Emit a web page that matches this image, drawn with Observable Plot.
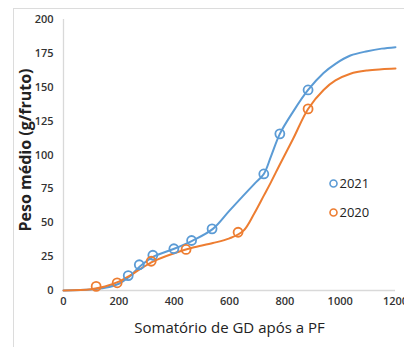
<!DOCTYPE html>
<html>
<head>
<meta charset="utf-8">
<script src="https://cdn.jsdelivr.net/npm/d3@7"></script>
<script src="https://cdn.jsdelivr.net/npm/@observablehq/plot@0.6"></script>
<style>
  html, body { margin: 0; padding: 0; background: #fff; }
  #wrap { position: relative; width: 404px; height: 347px; overflow: hidden; }
  #frame { position: absolute; left: 13px; top: 8px; width: 420px; height: 360px;
           border-top: 1.5px solid #dcdcdc; border-left: 1.5px solid #dcdcdc; box-sizing: border-box; }
  #chart { position: absolute; left: 0; top: 0; }
</style>
</head>
<body>
<div id="wrap"><div id="frame"></div><div id="chart"></div></div>
<script>
// Observed points
const obsX2021 = [234, 274, 323, 399, 463, 537, 724, 782, 884];
const obsY2021 = [11, 19, 26, 30.8, 36.9, 45.5, 86, 115.6, 148];
const obsX2020 = [118, 194, 317, 443, 631, 884];
const obsY2020 = [3, 5.7, 21.6, 30.3, 43, 134];

// Fitted curves
const curveX = [0, 100, 150, 200, 240, 275, 325, 400, 465, 540, 600, 650, 690, 724, 750, 782, 830, 884, 940, 983, 1037, 1098, 1150, 1200];
const curve2021 = [0, 0.8, 2, 5, 10.5, 17.5, 25, 30.8, 36.7, 45.5, 59, 70, 78.7, 86, 99, 115.6, 132, 148, 160.5, 167.3, 173.4, 176.6, 178.5, 179.6];
const curve2020 = [0, 1, 3, 6.5, 11, 15.5, 21.5, 27.5, 31.5, 35, 38.5, 44, 57, 70, 80, 93, 112, 134, 148, 155, 160, 162.4, 163.3, 163.8];

const series = ["2021", "2020"];
const colors = ["#5b9bd5", "#ed7d31"];
const xTicks = [0, 200, 400, 600, 800, 1000, 1200];
const yTicks = [0, 25, 50, 75, 100, 125, 150, 175, 200];
const xLabel = "Somatório de GD após a PF";
const yLabel = "Peso médio (g/fruto)";

const pts2021 = obsX2021.map((x, i) => ({x, y: obsY2021[i]}));
const pts2020 = obsX2020.map((x, i) => ({x, y: obsY2020[i]}));
const c2021 = curveX.map((x, i) => ({x, y: curve2021[i]}));
const c2020 = curveX.map((x, i) => ({x, y: curve2020[i]}));

const font = "'Open Sans', sans-serif";

const chart = Plot.plot({
  width: 404,
  height: 347,
  marginLeft: 63,
  marginRight: 9,
  marginTop: 19,
  marginBottom: 57,
  style: {fontFamily: font, background: "transparent"},
  x: {domain: [0, 1200]},
  y: {domain: [0, 200]},
  marks: [
    Plot.ruleX([0], {stroke: "#d9d9d9", strokeWidth: 1.3}),
    Plot.ruleY([0], {stroke: "#d9d9d9", strokeWidth: 1.3}),
    Plot.axisX({ticks: xTicks, tickSize: 0, tickPadding: 7, label: null, fontSize: 11, fontWeight: 600, fill: "#333", tickFormat: d => String(d)}),
    Plot.axisY({ticks: yTicks, tickSize: 0, tickPadding: 10, label: null, fontSize: 11, fontWeight: 600, fill: "#333", tickFormat: d => String(d)}),
    Plot.line(c2021, {x: "x", y: "y", stroke: colors[0], strokeWidth: 2, curve: "catmull-rom"}),
    Plot.line(c2020, {x: "x", y: "y", stroke: colors[1], strokeWidth: 2, curve: "catmull-rom"}),
    Plot.dot(pts2021, {x: "x", y: "y", r: 4.5, stroke: colors[0], strokeWidth: 1.8, fill: "none"}),
    Plot.dot(pts2020, {x: "x", y: "y", r: 4.5, stroke: colors[1], strokeWidth: 1.8, fill: "none"}),
    // axis titles
    Plot.text([xLabel], {frameAnchor: "bottom", dy: 38, fontSize: 15, fill: "#222", text: d => d, lineAnchor: "middle"}),
    Plot.text([yLabel], {frameAnchor: "left", dx: -38, dy: -5, rotate: -90, fontSize: 16, fontWeight: 700, fill: "#222", text: d => d, textAnchor: "middle", lineAnchor: "middle"}),
    // legend
    Plot.dot([series[0]], {frameAnchor: "top-left", dx: 270, dy: 164, r: 3.5, stroke: colors[0], strokeWidth: 1.6, fill: "none"}),
    Plot.dot([series[1]], {frameAnchor: "top-left", dx: 270, dy: 193, r: 3.5, stroke: colors[1], strokeWidth: 1.6, fill: "none"}),
    Plot.text([series[0]], {frameAnchor: "top-left", dx: 276, dy: 164, text: d => d, textAnchor: "start", fontSize: 13, fill: "#222", lineAnchor: "middle"}),
    Plot.text([series[1]], {frameAnchor: "top-left", dx: 276, dy: 193, text: d => d, textAnchor: "start", fontSize: 13, fill: "#222", lineAnchor: "middle"})
  ]
});
document.getElementById("chart").appendChild(chart);
</script>
</body>
</html>
